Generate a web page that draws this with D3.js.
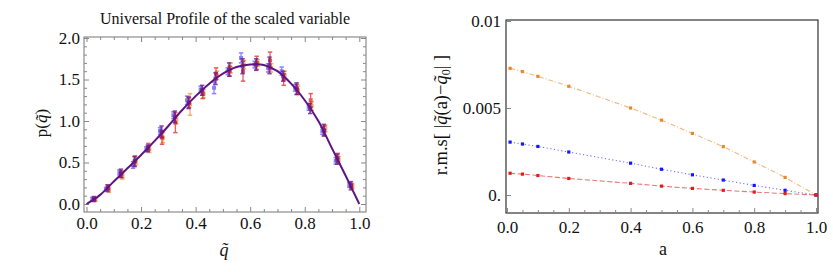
<!DOCTYPE html>
<html>
<head>
<meta charset="utf-8">
<script src="https://cdn.jsdelivr.net/npm/d3@7"></script>
<style>
  body { margin: 0; background: #fff; }
  svg text { font-family: "Liberation Serif", "Times New Roman", serif; fill: #111; }
</style>
</head>
<body>
<svg id="chart" width="833" height="272"></svg>
<script>
// ---- left panel: universal profile ----
const binCenters = [0.027, 0.077, 0.126, 0.176, 0.225, 0.275, 0.324, 0.374, 0.424, 0.473,
  0.523, 0.572, 0.622, 0.671, 0.721, 0.770, 0.820, 0.870, 0.919, 0.969];

const blueVals = [0.06, 0.18, 0.38, 0.47, 0.66, 0.88, 1.07, 1.25, 1.38, 1.40, 1.60, 1.76, 1.68, 1.64, 1.60, 1.40, 1.17, 0.88, 0.52, 0.23];
const blueErr = [0.02, 0.02, 0.03, 0.04, 0.03, 0.04, 0.04, 0.05, 0.04, 0.07, 0.04, 0.06, 0.04, 0.05, 0.05, 0.04, 0.04, 0.04, 0.04, 0.03];
const orangeVals = [0.05, 0.17, 0.33, 0.52, 0.66, 0.80, 1.02, 1.20, 1.33, 1.55, 1.64, 1.68, 1.70, 1.64, 1.55, 1.37, 1.18, 0.91, 0.53, 0.21];
const orangeErr = [0.02, 0.03, 0.03, 0.04, 0.04, 0.06, 0.05, 0.13, 0.05, 0.05, 0.06, 0.05, 0.04, 0.05, 0.05, 0.05, 0.05, 0.04, 0.04, 0.03];
const redVals = [0.06, 0.20, 0.36, 0.52, 0.69, 0.80, 0.98, 1.22, 1.33, 1.57, 1.60, 1.60, 1.70, 1.73, 1.50, 1.38, 1.25, 0.88, 0.56, 0.22];
const redErr = [0.02, 0.03, 0.04, 0.06, 0.04, 0.08, 0.12, 0.06, 0.06, 0.07, 0.06, 0.12, 0.08, 0.10, 0.07, 0.06, 0.08, 0.06, 0.05, 0.03];
const purpleVals = [0.06, 0.19, 0.37, 0.51, 0.67, 0.87, 1.05, 1.22, 1.37, 1.51, 1.62, 1.66, 1.68, 1.67, 1.54, 1.39, 1.15, 0.89, 0.54, 0.22];
const purpleErr = [0.03, 0.04, 0.05, 0.06, 0.04, 0.07, 0.07, 0.07, 0.06, 0.07, 0.08, 0.09, 0.07, 0.10, 0.06, 0.07, 0.06, 0.07, 0.06, 0.05];

// fitted profile
const curveX = [0, 0.05, 0.1, 0.15, 0.2, 0.25, 0.3, 0.35, 0.4, 0.45, 0.5, 0.55, 0.6, 0.65, 0.7, 0.75, 0.8, 0.85, 0.9, 0.95, 1.0];
const curveY = [0, 0.11, 0.27, 0.43, 0.59, 0.76, 0.94, 1.13, 1.30, 1.45, 1.57, 1.65, 1.68, 1.675, 1.60, 1.45, 1.25, 1.00, 0.67, 0.34, 0];

const leftXTicks = [0, 0.2, 0.4, 0.6, 0.8, 1.0];
const leftYTicks = [0, 0.5, 1.0, 1.5, 2.0];

// ---- right panel: r.m.s deviation vs a ----
const aVals = [0.01, 0.05, 0.1, 0.2, 0.4, 0.5, 0.6, 0.7, 0.8, 0.9, 1.0];
const rmsOrange = [0.00728, 0.00709, 0.00682, 0.00625, 0.00500, 0.00430, 0.00354, 0.00278, 0.00190, 0.00101, 0];
const rmsBlue = [0.00304, 0.00293, 0.00279, 0.00247, 0.00183, 0.00148, 0.00116, 0.00086, 0.00055, 0.00027, 0];
const rmsRed = [0.00125, 0.00120, 0.00112, 0.00095, 0.00067, 0.00051, 0.00038, 0.00027, 0.00017, 0.00008, 0];

const rightXTicks = [0, 0.2, 0.4, 0.6, 0.8, 1.0];
const rightYTicks = [0, 0.005, 0.01];
const rightYLabels = ["0.", "0.005", "0.01"];

const svg = d3.select("#chart");
const FONT = "'Liberation Serif', 'Times New Roman', serif";

// draws inward ticks on one side of a frame
function ticks(g, axisFn, scale, major, minor, size, pad, labels, fmt) {
  const maj = g.append("g").call(axisFn(scale).tickValues(major).tickSize(-size)
    .tickPadding(pad).tickFormat(labels ? fmt : () => ""));
  maj.select(".domain").remove();
  if (minor) {
    const mn = g.append("g").call(axisFn(scale).tickValues(minor).tickSize(-size * 0.6).tickFormat(() => ""));
    mn.select(".domain").remove();
  }
  g.selectAll("g").attr("font-family", null).attr("font-size", null);
  g.selectAll(".tick line").attr("stroke", "#888");
  g.selectAll(".tick text").style("font-size", "17px").style("font-family", FONT).style("fill", "#111");
  return g;
}

// ===== left panel =====
const lx = d3.scaleLinear().domain([0, 1]).range([86.5, 359.3]);
const ly = d3.scaleLinear().domain([0, 2]).range([204, 38]);
const lFrame = { x0: 84, x1: 366, y0: 37, y1: 212 };

const left = svg.append("g");
left.append("rect").attr("x", lFrame.x0).attr("y", lFrame.y0)
  .attr("width", lFrame.x1 - lFrame.x0).attr("height", lFrame.y1 - lFrame.y0)
  .attr("fill", "none").attr("stroke", "#777").attr("stroke-width", 1);

const lxMinor = d3.range(0, 1.0001, 0.05).filter(v => !leftXTicks.some(t => Math.abs(t - v) < 1e-6));
const lyMinor = d3.range(-0.0, 2.0001, 0.1).filter(v => !leftYTicks.some(t => Math.abs(t - v) < 1e-6));
const fmt1 = d3.format(".1f");

ticks(left.append("g").attr("transform", `translate(0,${lFrame.y1})`), d3.axisBottom, lx, leftXTicks, lxMinor, 5, 5, true, fmt1);
ticks(left.append("g").attr("transform", `translate(0,${lFrame.y0})`), d3.axisTop, lx, leftXTicks, lxMinor, 5, 5, false);
ticks(left.append("g").attr("transform", `translate(${lFrame.x0},0)`), d3.axisLeft, ly, leftYTicks, lyMinor, 5, 4, true, fmt1);
ticks(left.append("g").attr("transform", `translate(${lFrame.x1},0)`), d3.axisRight, ly, leftYTicks, lyMinor, 5, 5, false);

const series = [
  { vals: blueVals, err: blueErr, color: "#2020ff", dx: -1.5, op: 0.55, w: 1.2 },
  { vals: orangeVals, err: orangeErr, color: "#ee8c2c", dx: 1.5, op: 0.7, w: 1.3 },
  { vals: redVals, err: redErr, color: "#e01818", dx: 0.5, op: 0.7, w: 1.3 },
  { vals: purpleVals, err: purpleErr, color: "#6a1b8e", dx: 0, op: 0.8, w: 2 }
];

series.forEach(s => {
  const g = left.append("g").attr("opacity", s.op);
  const pts = binCenters.map((x, i) => ({ x, y: s.vals[i], e: s.err[i] }));
  g.selectAll("line.bar").data(pts).enter().append("line")
    .attr("x1", d => lx(d.x) + s.dx).attr("x2", d => lx(d.x) + s.dx)
    .attr("y1", d => ly(d.y - d.e)).attr("y2", d => ly(d.y + d.e))
    .attr("stroke", s.color).attr("stroke-width", s.w);
  [1, -1].forEach(sign => {
    g.selectAll(null).data(pts).enter().append("line")
      .attr("x1", d => lx(d.x) + s.dx - 2.2).attr("x2", d => lx(d.x) + s.dx + 2.2)
      .attr("y1", d => ly(d.y + sign * d.e)).attr("y2", d => ly(d.y + sign * d.e))
      .attr("stroke", s.color).attr("stroke-width", 1.5);
  });
  g.selectAll("rect.pt").data(pts).enter().append("rect")
    .attr("x", d => lx(d.x) + s.dx - 2).attr("y", d => ly(d.y) - 2)
    .attr("width", 4).attr("height", 4).attr("fill", s.color);
});

const profileLine = d3.line().x(d => lx(d[0])).y(d => ly(d[1])).curve(d3.curveCatmullRom);
left.append("path").datum(curveX.map((x, i) => [x, curveY[i]]))
  .attr("d", profileLine).attr("fill", "none").attr("stroke", "#5f1580").attr("stroke-width", 2);

left.append("text").attr("x", 225).attr("y", 24).attr("text-anchor", "middle")
  .style("font-size", "16px").text("Universal Profile of the scaled variable");

left.append("text").attr("transform", "translate(47,123) rotate(-90)").attr("text-anchor", "middle")
  .style("font-size", "17px")
  .call(t => {
    t.append("tspan").text("p(");
    t.append("tspan").attr("font-style", "italic").text("q\u0303");
    t.append("tspan").text(")");
  });
left.append("text").attr("x", 224).attr("y", 256).attr("text-anchor", "middle")
  .style("font-size", "18px").attr("font-style", "italic").text("q\u0303");

// ===== right panel =====
const rx = d3.scaleLinear().domain([0, 1]).range([507, 816]);
const ry = d3.scaleLinear().domain([0, 0.01]).range([195, 21]);
const rFrame = { x0: 506, x1: 818, y0: 20, y1: 213 };

const right = svg.append("g");
right.append("rect").attr("x", rFrame.x0).attr("y", rFrame.y0)
  .attr("width", rFrame.x1 - rFrame.x0).attr("height", rFrame.y1 - rFrame.y0)
  .attr("fill", "none").attr("stroke", "#333").attr("stroke-width", 1.2);

const rxMinor = d3.range(0, 1.0001, 0.05).filter(v => !rightXTicks.some(t => Math.abs(t - v) < 1e-6));
ticks(right.append("g").attr("transform", `translate(0,${rFrame.y1})`), d3.axisBottom, rx, rightXTicks, rxMinor, 5, 8, true, fmt1);
ticks(right.append("g").attr("transform", `translate(${rFrame.x0},0)`), d3.axisLeft, ry, rightYTicks, null, 5, 5, true,
  (d, i) => rightYLabels[i]);

const rmsSeries = [
  { vals: rmsOrange, color: "#e8892b", dash: "5,2,1,2" },
  { vals: rmsBlue, color: "#1515ff", dash: "1.2,2.5" },
  { vals: rmsRed, color: "#e01c1c", dash: "5,2.5" }
];
rmsSeries.forEach(s => {
  const pts = aVals.map((a, i) => [a, s.vals[i]]);
  right.append("path").datum(pts)
    .attr("d", d3.line().x(d => rx(d[0])).y(d => ry(d[1])))
    .attr("fill", "none").attr("stroke", s.color).attr("stroke-width", 1.1)
    .attr("stroke-dasharray", s.dash).attr("opacity", 0.6);
  right.selectAll(null).data(pts).enter().append("rect")
    .attr("x", d => rx(d[0]) - 1.6).attr("y", d => ry(d[1]) - 1.6)
    .attr("width", 3.2).attr("height", 3.2).attr("fill", s.color);
});

right.append("text").attr("transform", "translate(447,115) rotate(-90)").attr("text-anchor", "middle")
  .style("font-size", "18.5px")
  .call(t => {
    t.append("tspan").text("r.m.s[ |");
    t.append("tspan").attr("font-style", "italic").text("q\u0303");
    t.append("tspan").text("(a)\u2212");
    t.append("tspan").attr("font-style", "italic").text("q\u0303");
    t.append("tspan").style("font-size", "12px").attr("dy", 3).text("0");
    t.append("tspan").attr("dy", -3).text("| ]");
  });
right.append("text").attr("x", 663).attr("y", 255).attr("text-anchor", "middle")
  .style("font-size", "18px").text("a");
</script>
</body>
</html>
